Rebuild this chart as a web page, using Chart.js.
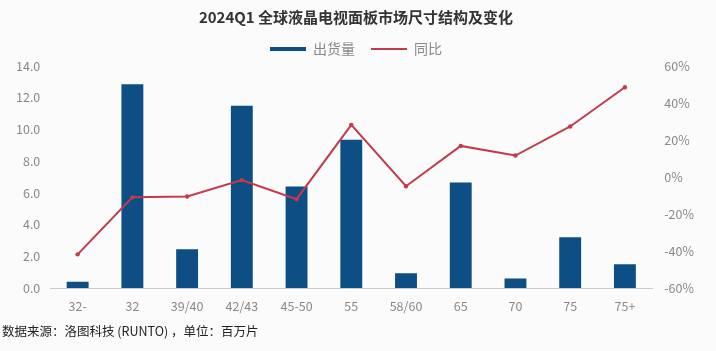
<!DOCTYPE html>
<html>
<head>
<meta charset="utf-8">
<script src="https://cdn.jsdelivr.net/npm/chart.js@4/dist/chart.umd.min.js"></script>
<style>
  html, body { margin: 0; padding: 0; background: #fbfbfb; }
  #wrap { position: relative; width: 716px; height: 351px; }
  #c { position: absolute; left: 0; top: 0; }
  #src { position: absolute; left: 2px; top: 321px; font-family: "Noto Sans CJK SC", sans-serif; font-size: 12.5px; color: #222; }
</style>
</head>
<body>
<div id="wrap">
  <canvas id="c" width="716" height="325"></canvas>
  <div id="src">数据来源：洛图科技 (RUNTO) ，单位：百万片</div>
</div>
<script>
const categories = ["32-", "32", "39/40", "42/43", "45-50", "55", "58/60", "65", "70", "75", "75+"];
const shipments = [0.4, 12.85, 2.45, 11.5, 6.4, 9.35, 0.93, 6.65, 0.6, 3.2, 1.5];
const yoy = [-41.8, -11, -10.5, -1.7, -12, 28.2, -5, 16.8, 11.6, 27.3, 48.5];
const leftTicks = [0, 2, 4, 6, 8, 10, 12, 14];
const rightTicks = [-60, -40, -20, 0, 20, 40, 60];

const BLUE = '#0d4f85';
const RED = '#c23a4c';
const FONT = '"Noto Sans CJK SC", "Noto Sans", sans-serif';

new Chart(document.getElementById('c'), {
  data: {
    labels: categories,
    datasets: [
      {
        type: 'line', label: '同比', data: yoy, yAxisID: 'y1',
        borderColor: RED, backgroundColor: RED, borderWidth: 2,
        pointRadius: 2.2, pointBackgroundColor: RED, pointBorderWidth: 0,
        tension: 0, order: 0
      },
      {
        type: 'bar', label: '出货量', data: shipments, yAxisID: 'y',
        backgroundColor: BLUE, categoryPercentage: 1, barPercentage: 0.4, order: 1
      }
    ]
  },
  options: {
    responsive: false,
    animation: false,
    layout: { padding: { left: 6, right: 10, top: 2, bottom: 0 } },
    plugins: {
      title: {
        display: true, text: '2024Q1 全球液晶电视面板市场尺寸结构及变化',
        font: { family: FONT, size: 15, weight: 'bold' }, color: '#333',
        padding: { top: 6, bottom: 0 }
      },
      legend: {
        display: true,
        labels: {
          font: { family: FONT, size: 14 }, color: '#888',
          usePointStyle: true, pointStyleWidth: 36, boxHeight: 4,
          padding: 16,
          generateLabels(chart) {
            const ds = chart.data.datasets;
            return [
              { text: ds[1].label, fillStyle: BLUE, strokeStyle: BLUE, lineWidth: 0, pointStyle: 'rect', datasetIndex: 1, fontColor: '#888' },
              { text: ds[0].label, fillStyle: RED, strokeStyle: RED, lineWidth: 2, pointStyle: 'line', datasetIndex: 0, fontColor: '#888' }
            ];
          }
        }
      },
      tooltip: { enabled: false }
    },
    scales: {
      x: {
        grid: { display: false, drawTicks: false },
        border: { display: true, color: '#ccc' },
        ticks: { font: { family: FONT, size: 12.5 }, color: '#888', padding: 11 }
      },
      y: {
        position: 'left', min: 0, max: 14,
        afterBuildTicks(s) { s.ticks = leftTicks.map(v => ({ value: v })); },
        grid: { display: false, drawTicks: false },
        border: { display: false },
        ticks: { font: { family: FONT, size: 12.5 }, color: '#888', padding: 10, callback: v => v.toFixed(1) }
      },
      y1: {
        position: 'right', min: -60, max: 60,
        afterBuildTicks(s) { s.ticks = rightTicks.map(v => ({ value: v })); },
        grid: { display: false, drawTicks: false },
        border: { display: false },
        ticks: { font: { family: FONT, size: 12.5 }, color: '#888', padding: 12, callback: v => v + '%' }
      }
    }
  }
});
</script>
</body>
</html>
